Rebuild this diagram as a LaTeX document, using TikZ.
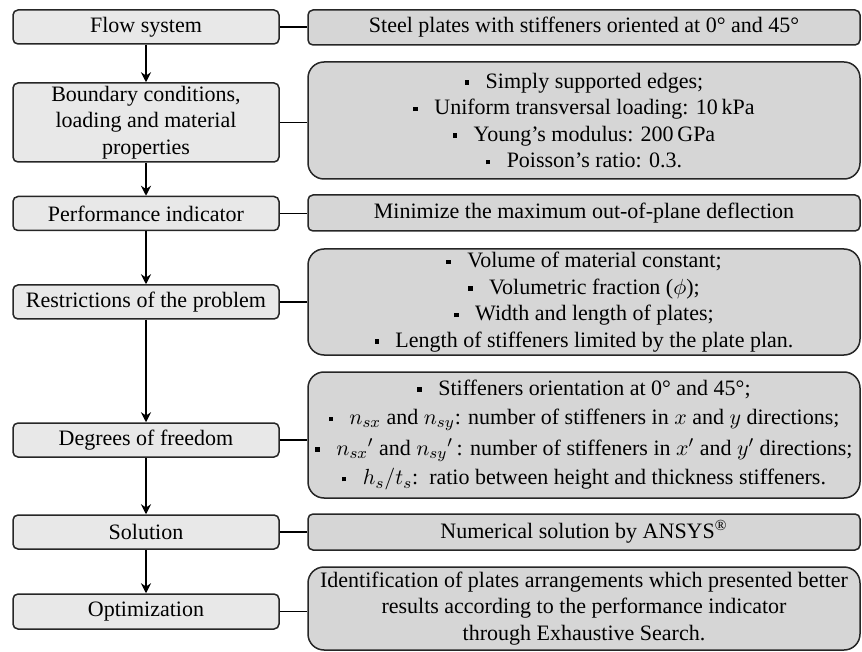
\documentclass[tikz,border=0pt]{standalone}
\usepackage{fontspec}
\setmainfont{Liberation Serif}
\usetikzlibrary{arrows.meta, positioning}

\definecolor{stagegray}{HTML}{E8E8E8}
\definecolor{infogray}{HTML}{D6D6D6}
\newcommand{\sqbul}{\rule[0.35ex]{2.2pt}{2.2pt}\hspace{0.75em}}

\begin{document}
\begin{tikzpicture}[x=0.5pt, y=-0.5pt,
    stage/.style={rectangle, draw=black!85, line width=0.75pt, align=center, minimum width=133pt, minimum height=17pt, fill=stagegray, rounded corners=2.5pt, inner sep=1pt, font=\fontsize{11}{13.3}\selectfont},
    info/.style={stage, minimum width=276pt, fill=infogray},
    infolist/.style={info, rounded corners=8pt},
    arrow/.style={-{Stealth[length=5pt, width=5pt]}, line width=0.75pt},
    link/.style={line width=0.75pt}
]
\useasboundingbox (0,0) rectangle (862,652);

% Stages on the left
\node[stage] (flow) at (146, 27) {Flow system};
\node[stage, minimum height=39.5pt] (bound) at (146, 122.5) {Boundary conditions,\\ loading and material\\ properties};
\node[stage] (perf) at (146, 213.5) {Performance indicator};
\node[stage] (restr) at (146, 302) {Restrictions of the problem};
\node[stage] (dof) at (146, 440) {Degrees of freedom};
\node[stage] (sol) at (146, 532) {Solution};
\node[stage, minimum height=17.5pt] (opt) at (146, 611.5) {Optimization};

% Descriptions on the right
\node[info, minimum height=17.5pt] (steel) at (584, 27.5) {Steel plates with stiffeners oriented at 0° and 45°};
\node[infolist, minimum height=58.5pt] (bclist) at (584, 120.5) {\sqbul Simply supported edges;\\ \sqbul Uniform transversal loading: 10\,kPa\\ \sqbul Young’s modulus: 200\,GPa\\ \sqbul Poisson’s ratio: 0.3.};
\node[info, minimum height=18pt] (minim) at (584, 213) {Minimize the maximum out-of-plane deflection};
\node[infolist, minimum height=53pt] (rlist) at (584, 302) {\sqbul Volume of material constant;\\ \sqbul Volumetric fraction ($\phi$);\\ \sqbul Width and length of plates;\\ \sqbul Length of stiffeners limited by the plate plan.};
\node[infolist, minimum height=63pt] (dlist) at (584, 435) {\sqbul Stiffeners orientation at 0° and 45°;\\[1.5pt] \sqbul $n_{sx}$ and $n_{sy}$: number of stiffeners in $x$ and $y$ directions;\\[2pt] \sqbul $n_{sx}{}'$ and $n_{sy}{}'$\,: number of stiffeners in $x'$ and $y'$ directions;\\[1.5pt] \sqbul $h_s/t_s$:\enspace ratio between height and thickness stiffeners.};
\node[info, minimum height=18pt] (ansys) at (584, 532) {Numerical solution by ANSYS\textsuperscript{®}};
\node[infolist, minimum height=41.5pt] (search) at (584, 608.5) {Identification of plates arrangements which presented better\\ results according to the performance indicator\\ through Exhaustive Search.};

% Arrows down the stages
\draw[arrow] (flow) -- (bound);
\draw[arrow] (bound) -- (perf);
\draw[arrow] (perf) -- (restr);
\draw[arrow] (restr) -- (dof);
\draw[arrow] (dof) -- (sol);
\draw[arrow] (sol) -- (opt);

% Links to the descriptions
\draw[link] (flow.east) -- (flow.east -| steel.west);
\draw[link] (bound.east) -- (bound.east -| bclist.west);
\draw[link] (perf.east) -- (perf.east -| minim.west);
\draw[link] (restr.east) -- (restr.east -| rlist.west);
\draw[link] (dof.east) -- (dof.east -| dlist.west);
\draw[link] (sol.east) -- (sol.east -| ansys.west);
\draw[link] (opt.east) -- (opt.east -| search.west);

\end{tikzpicture}
\end{document}
